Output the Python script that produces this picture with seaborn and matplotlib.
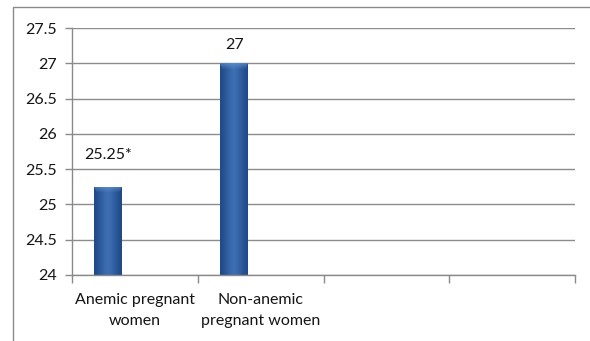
import numpy as np
import pandas as pd
import matplotlib
matplotlib.use("Agg")
import matplotlib.pyplot as plt
from matplotlib.patches import Rectangle
import seaborn as sns

# Mean values per group (only the first two category slots hold data)
categories = ["Anemic pregnant\nwomen", "Non-anemic\npregnant women", "", " "]
groups = ["Anemic pregnant\nwomen", "Non-anemic\npregnant women"]
values = [25.25, 27.0]
value_labels = ["25.25*", "27"]
series = ["Mean", "Other"]
other_values = [np.nan, np.nan]
y_ticks = [24, 24.5, 25, 25.5, 26, 26.5, 27, 27.5]
y_tick_labels = ["24", "24.5", "25", "25.5", "26", "26.5", "27", "27.5"]

sns.set_theme(style="white")
plt.rcParams["font.family"] = ["Lato", "DejaVu Sans"]

df = pd.DataFrame({
    "group": groups + groups,
    "value": values + other_values,
    "series": [series[0]] * len(groups) + [series[1]] * len(groups),
})

W, H = 590, 341
fig = plt.figure(figsize=(W / 100, H / 100), dpi=100)
ax = fig.add_axes([72 / W, 1 - 275 / H, (575 - 72) / W, (275 - 28) / H])

sns.barplot(data=df, x="group", y="value", hue="series", order=categories,
            hue_order=series, palette=["#2f5c9e", "#c0504d"], width=0.84,
            gap=0.47, legend=False, ax=ax)

ax.set_ylim(24, 27.5)
ax.set_xlim(-0.5, len(categories) - 0.5)
ax.set_yticks(y_ticks)
ax.set_yticklabels(y_tick_labels)
ax.set_xlabel("")
ax.set_ylabel("")

FS = 11.5
TXT = "#151515"
# Category boundary ticks, labels at category centres
ax.set_xticks(np.arange(-0.5, len(categories), 1.0))
ax.set_xticklabels([])
ax.set_xticks(np.arange(len(categories)), minor=True)
ax.set_xticklabels(categories, minor=True, fontsize=FS, color=TXT,
                   linespacing=1.6)
ax.tick_params(axis="x", which="major", length=6, width=1, color="#8a8a8a",
               direction="out", bottom=True)
ax.tick_params(axis="x", which="minor", length=0, pad=13, bottom=True)
ax.tick_params(axis="y", length=5, width=1, color="#8a8a8a", direction="out",
               left=True, pad=6, labelsize=FS, labelcolor=TXT)

ax.grid(axis="y", color="#8c8c8c", linewidth=1)
ax.set_axisbelow(True)
for side in ["top", "right"]:
    ax.spines[side].set_visible(False)
for side in ["left", "bottom"]:
    ax.spines[side].set_color("#8a8a8a")
    ax.spines[side].set_linewidth(1)

# Shaded column fill: dark edges, lighter centre, bright bevel at the top
ppu = (275 - 28) / 3.5
prof = np.array([0.0, 0.2, 0.5, 0.8, 1.0, 0.8, 0.5, 0.2, 0.0])
dark = np.array(matplotlib.colors.to_rgb("#1f4a88"))
mid = np.array(matplotlib.colors.to_rgb("#3f70b4"))
cap = np.array(matplotlib.colors.to_rgb("#6a9ad8"))
bars = [p for p in ax.patches if np.isfinite(p.get_height()) and p.get_height() > 0]
for p in bars:
    x0, w, top = p.get_x(), p.get_width(), p.get_height()
    px_h = int(round((top - 24) * ppu))
    nx = 60
    xs = np.interp(np.linspace(0, len(prof) - 1, nx), np.arange(len(prof)), prof)
    row = dark[None, :] + (mid - dark)[None, :] * xs[:, None]
    img = np.repeat(row[None, :, :], px_h, axis=0)
    for r in range(min(6, px_h)):
        t = 1 - r / 6
        inset = int(nx * 0.08 * (r + 1) / 6)
        seg = slice(inset, nx - inset)
        img[r, seg] = img[r, seg] * (1 - 0.6 * t) + cap * 0.6 * t
    p.set_facecolor("none")
    p.set_edgecolor("none")
    im = ax.imshow(img, extent=[x0, x0 + w, 24, top], aspect="auto",
                   interpolation="bilinear", zorder=2)
    im.set_clip_path(p)

ax.set_xlim(-0.5, len(categories) - 0.5)
ax.set_ylim(24, 27.5)

# Value labels above the columns
offsets = [18, 8]
for p, v, lab, off in zip(bars, values, value_labels, offsets):
    ax.annotate(lab, (p.get_x() + p.get_width() / 2, v), xytext=(0, off),
                textcoords="offset points", ha="center", va="bottom",
                fontsize=FS, color=TXT)

# Chart area border
fig.patches.append(Rectangle((13 / W, -0.1), 1.2, 1 - 7 / H + 0.1,
                             transform=fig.transFigure, fill=False,
                             edgecolor="#8a8a8a", linewidth=1))

fig.savefig("out.png", dpi=100, facecolor="white")
